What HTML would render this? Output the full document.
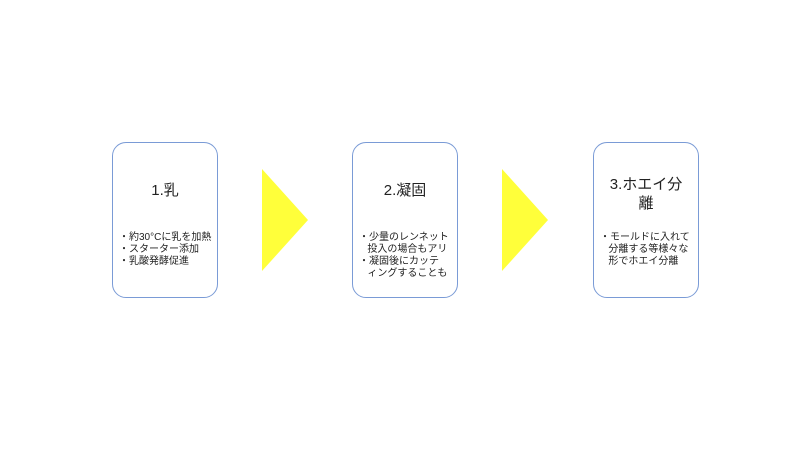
<html><head><style>
body{margin:0;width:800px;height:450px;background:#fff;position:relative;font-family:"Liberation Sans","Noto Sans CJK JP",sans-serif;color:#222}
.b{position:absolute;top:142px;width:106px;height:156px;border:1.3px solid #7a9bd6;border-radius:14px;box-sizing:border-box}
.t{position:absolute;top:38px;left:0;right:0;text-align:center;font-size:15px;line-height:19px}
.l{position:absolute;left:6px;right:0;font-size:10px;line-height:12px;white-space:nowrap}
.tr{position:absolute;top:169px;width:0;height:0;border-top:51px solid transparent;border-bottom:51px solid transparent;border-left:46px solid #ffff3a}
</style></head><body>
<div class="b" style="left:112px"><div class="t">1.乳</div><div class="l" style="top:89px">・約30°Cに乳を加熱<br>・スターター添加<br>・乳酸発酵促進</div></div>
<div class="tr" style="left:262px"></div>
<div class="b" style="left:352px"><div class="t">2.凝固</div><div class="l" style="top:89px">・少量のレンネット<br>&nbsp;&nbsp;&nbsp;投入の場合もアリ<br>・凝固後にカッテ<br>&nbsp;&nbsp;&nbsp;ィングすることも</div></div>
<div class="tr" style="left:502px"></div>
<div class="b" style="left:593px"><div class="t" style="top:32px">3.ホエイ分<br>離</div><div class="l" style="top:89px">・モールドに入れて<br>&nbsp;&nbsp;&nbsp;分離する等様々な<br>&nbsp;&nbsp;&nbsp;形でホエイ分離</div></div>
</body></html>
